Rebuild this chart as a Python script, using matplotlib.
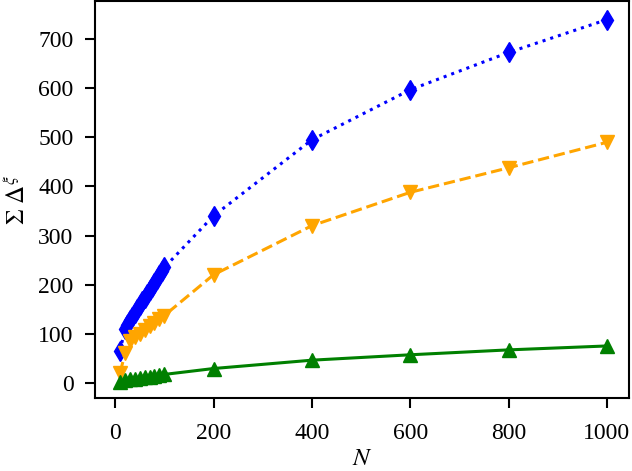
import matplotlib
matplotlib.use("Agg")
import matplotlib.pyplot as plt

plt.rcParams['font.family'] = ['serif']
plt.rcParams['font.serif'] = ['Liberation Serif', 'DejaVu Serif']
plt.rcParams['mathtext.fontset'] = 'stix'

N_blue = [10, 20, 25, 30, 35, 40, 45, 50, 55, 60, 65, 70, 75, 80, 85, 90, 95, 100,
          200, 400, 600, 800, 1000]
blue = [65, 110, 118, 127, 135, 143, 150, 158, 166, 173, 181, 189, 196, 204, 211, 219, 227, 235,
        340, 495, 597, 673, 740]

N_orange = [10, 20, 30, 40, 50, 60, 70, 80, 90, 100, 200, 400, 600, 800, 1000]
orange = [20, 60, 85, 93, 100, 107, 115, 122, 130, 137, 220, 320, 388, 438, 490]

N_green = [10, 20, 30, 40, 50, 60, 70, 80, 90, 100, 200, 400, 600, 800, 1000]
green = [2, 5, 7, 8, 10, 11, 12, 14, 15, 17, 29, 46, 57, 67, 75]

fig = plt.figure(figsize=(6.32, 4.71), dpi=100)
ax = fig.add_axes([0.1503, 0.154, 0.845, 0.844])

ax.plot(N_blue, blue, color='#0000ff', linestyle=':', linewidth=2.2, marker='d', markersize=10)
ax.plot(N_orange, orange, color='orange', linestyle='--', linewidth=2.2, marker='v', markersize=9.5)
ax.plot(N_green, green, color='green', linestyle='-', linewidth=2.2, marker='^', markersize=9.5)

ax.set_xlim(-41, 1045)
ax.set_ylim(-32, 778)
ax.set_xticks([0, 200, 400, 600, 800, 1000])
ax.set_yticks([0, 100, 200, 300, 400, 500, 600, 700])
ax.tick_params(axis='both', direction='out', length=7.5, width=1.5, labelsize=17)
ax.tick_params(axis='x', pad=10)
ax.tick_params(axis='y', pad=8)
for s in ax.spines.values():
    s.set_linewidth(1.5)

ax.set_xlabel('$N$', fontsize=18, labelpad=3)
ax.set_ylabel(r'$\Sigma\ \Delta^{\xi}$', fontsize=18, labelpad=6)

fig.savefig('out.png', dpi=100)
